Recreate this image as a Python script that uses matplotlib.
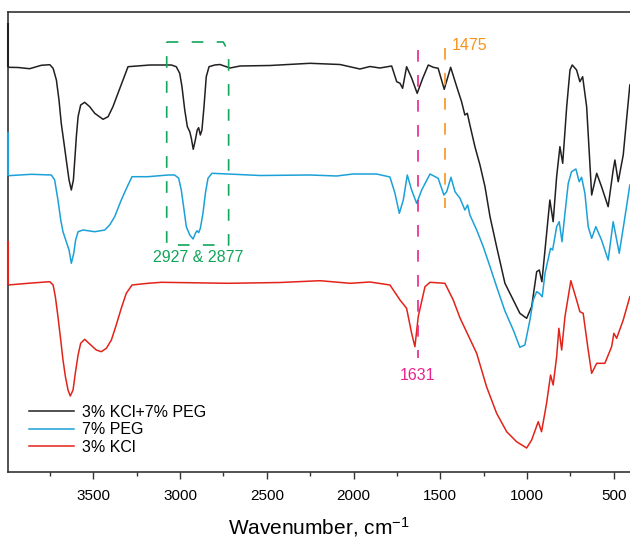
import matplotlib
matplotlib.use('Agg')
import matplotlib.pyplot as plt
from matplotlib.ticker import MultipleLocator

plt.rcParams['font.family'] = ['Liberation Sans', 'DejaVu Sans']
plt.rcParams['mathtext.default'] = 'regular'

# FTIR spectra, stacked with an offset (transmittance, a.u.)
wn_mix = [3992, 3934, 3867, 3800, 3751, 3732, 3713, 3698, 3685, 3669, 3656, 3640,
          3627, 3615, 3607, 3598, 3588, 3573, 3550, 3521, 3492, 3444, 3415, 3387,
          3358, 3329, 3300, 3173, 3050, 3022, 3002, 2989, 2973, 2958, 2944, 2935,
          2924, 2912, 2901, 2893, 2883, 2874, 2862, 2849, 2833, 2800, 2770, 2712,
          2654, 2482, 2251, 2078, 1963, 1905, 1848, 1780, 1751, 1732, 1717, 1694,
          1665, 1633, 1601, 1569, 1540, 1512, 1477, 1440, 1405, 1377, 1358, 1344,
          1329, 1300, 1271, 1242, 1213, 1175, 1127, 1079, 1041, 1002, 973, 944,
          929, 914, 896, 868, 849, 829, 810, 794, 771, 752, 739, 714, 695, 679,
          656, 627, 598, 570, 532, 503, 493, 474, 445, 407]
t_mix = [404.7, 404.5, 403.3, 406.7, 407.3, 403.7, 392.0, 372.0, 348.7, 328.7, 312.0, 292.0,
         282.0, 292.0, 312.0, 335.3, 355.3, 367.0, 369.7, 365.3, 358.7, 352.7, 355.3, 365.3,
         378.7, 392.0, 405.3, 407.0, 407.0, 405.3, 398.7, 385.3, 362.0, 345.3, 340.3, 333.7,
         322.7, 332.0, 342.0, 344.3, 337.0, 342.0, 365.3, 395.3, 405.3, 407.0, 407.5, 404.0,
         406.0, 406.5, 408.7, 407.5, 403.0, 405.5, 404.0, 406.0, 390.3, 388.7, 383.7, 405.3,
         394.0, 378.7, 393.7, 407.0, 404.7, 403.7, 382.7, 404.7, 385.3, 370.3, 357.0, 358.7,
         347.0, 325.3, 307.0, 285.3, 255.3, 225.3, 188.7, 172.0, 158.7, 153.7, 165.3, 200.3,
         202.0, 190.3, 222.0, 272.0, 250.3, 295.3, 325.3, 308.7, 365.3, 402.0, 407.0, 402.0, 390.3, 395.3,
         365.3, 277.0, 298.7, 285.3, 265.3, 302.0, 312.0, 290.3, 317.0, 387.0]

wn_peg = [3992, 3857, 3742, 3723, 3704, 3688, 3675, 3656, 3640, 3627, 3613, 3602,
          3588, 3559, 3492, 3434, 3406, 3377, 3339, 3300, 3277, 3185, 3069, 3031,
          3008, 2993, 2977, 2964, 2944, 2925, 2910, 2902, 2893, 2883, 2868, 2854,
          2839, 2816, 2724, 2539, 2251, 2097, 2003, 1867, 1790, 1761, 1736,
          1713, 1690, 1665, 1636, 1607, 1559, 1512, 1479, 1463, 1438, 1415, 1386,
          1358, 1342, 1329, 1290, 1252, 1213, 1175, 1127, 1079, 1041, 1012, 983,
          964, 944, 929, 912, 896, 864, 852, 829, 814, 798, 781, 762, 743, 718,
          699, 685, 666, 647, 627, 603, 570, 532, 503, 468, 435, 407]
t_peg = [296.3, 297.7, 297.0, 292.0, 272.0, 252.0, 240.3, 230.3, 222.0, 208.7, 218.7, 232.0,
         240.3, 242.0, 240.3, 242.0, 247.0, 255.3, 272.0, 287.0, 295.3, 295.3, 297.0, 297.0,
         293.7, 282.0, 262.0, 245.3, 237.0, 233.0, 239.3, 241.3, 239.3, 243.7, 258.7, 278.7,
         293.7, 298.7, 298.0, 296.5, 297.0, 296.0, 298.0, 298.0, 295.0, 278.7, 258.7,
         272.0, 297.0, 282.0, 268.7, 282.0, 298.0, 293.7, 277.0, 280.3, 294.7, 280.3, 273.7,
         262.0, 267.0, 257.0, 242.0, 225.3, 205.3, 185.3, 161.0, 142.0, 124.7, 127.0, 152.0,
         172.0, 180.3, 178.7, 175.3, 198.7, 223.7, 222.0, 245.3, 250.3, 230.3, 258.7, 288.7, 300.3, 303.0,
         290.3, 294.7, 278.7, 245.3, 233.7, 245.3, 232.0, 212.0, 250.3, 218.7, 255.3, 287.0]

wn_kcl = [3992, 3876, 3800, 3751, 3732, 3719, 3704, 3688, 3675, 3661, 3646, 3633,
          3617, 3604, 3588, 3573, 3550, 3521, 3483, 3454, 3425, 3396, 3368, 3339,
          3310, 3277, 3185, 3108, 2724, 2424, 2193, 2020, 1905,
          1790, 1732, 1694, 1665, 1646, 1627, 1588, 1559, 1473, 1425, 1386, 1290,
          1233, 1175, 1117, 1060, 1002, 973, 935, 916, 887, 864, 849, 829, 816,
          800, 781, 747, 714, 695, 676, 647, 627, 598, 551, 512, 499, 483, 445, 407]
t_kcl = [187.0, 188.7, 189.7, 190.3, 187.0, 175.3, 155.3, 132.0, 112.0, 95.3, 82.0, 76.0,
         82.0, 98.7, 117.0, 128.7, 132.7, 128.0, 122.0, 120.3, 123.7, 132.0, 147.0, 163.7,
         178.7, 187.0, 188.7, 189.7, 188.7, 189.5, 191.3, 188.7, 190.0,
         187.0, 172.0, 163.7, 138.7, 125.3, 155.3, 185.3, 189.7, 188.7, 172.0, 154.0, 118.7,
         85.3, 58.7, 40.3, 30.3, 24.0, 32.0, 50.3, 40.3, 68.7, 97.0, 87.0, 115.3, 143.7,
         122.0, 155.3, 191.3, 172.0, 160.3, 158.7, 122.0, 98.7, 108.7, 108.7, 125.3, 138.7, 133.7, 152.0, 175.3]

series = [
    ('3% KCl+7% PEG', wn_mix, t_mix, '#231f20'),
    ('7% PEG', wn_peg, t_peg, '#1ba1d8'),
    ('3% KCl', wn_kcl, t_kcl, '#e2231a'),
]

x_left, x_right = 3992, 406

fig = plt.figure(figsize=(6.3, 5.39), dpi=100)
ax = fig.add_axes([8 / 630, 67 / 539, 622 / 630, 460 / 539])

for name, wn, t, col in series:
    ax.plot(wn, t, color=col, lw=1.1, label=name, solid_joinstyle='round')
    # short offset bar on the left axis in the series colour
    ax.plot([x_left, x_left], [t[0], t[0] + 44], color=col, lw=1.5,
            clip_on=False, solid_capstyle='butt', zorder=5)

# peak markers
ax.plot([3077, 2751, 2720, 2720, 3077, 3077], [430, 430, 420, 227, 227, 430],
        color='#12a55c', lw=1.2, dashes=(7, 8))
ax.text(2896, 214, '2927 & 2877', color='#12a55c', fontsize=11.5,
        ha='center', va='center')

ax.plot([1631, 1631], [422, 114], color='#e8248c', lw=1.2, dashes=(7, 8))
ax.text(1634, 96, '1631', color='#e8248c', fontsize=11.5, ha='center', va='center')

ax.plot([1475, 1475], [424, 264], color='#f7941d', lw=1.2, dashes=(7, 8))
ax.text(1434, 426, '1475', color='#f7941d', fontsize=11.5, ha='left', va='center')

ax.set_xlim(x_left, x_right)
ax.set_ylim(0, 460)
ax.set_yticks([])
ax.xaxis.set_major_locator(MultipleLocator(500))
ax.xaxis.set_minor_locator(MultipleLocator(250))
ax.tick_params(axis='x', which='major', direction='out', length=5, width=1,
               labelsize=11, pad=7, color='#333333')
ax.tick_params(axis='x', which='minor', direction='out', length=3, width=1,
               color='#333333')
for side in ['left', 'bottom', 'top']:
    ax.spines[side].set_color('#333333')
    ax.spines[side].set_linewidth(1.2)
ax.spines['right'].set_visible(False)

ax.set_xlabel('Wavenumber, cm$^{-1}$', fontsize=15, labelpad=9)

ax.legend(loc='lower left', bbox_to_anchor=(0.034, 0.038), frameon=False,
          fontsize=11.5, handlelength=2.8, handletextpad=0.5, labelspacing=0.15,
          borderpad=0, borderaxespad=0)

fig.savefig('out.png', dpi=100)
